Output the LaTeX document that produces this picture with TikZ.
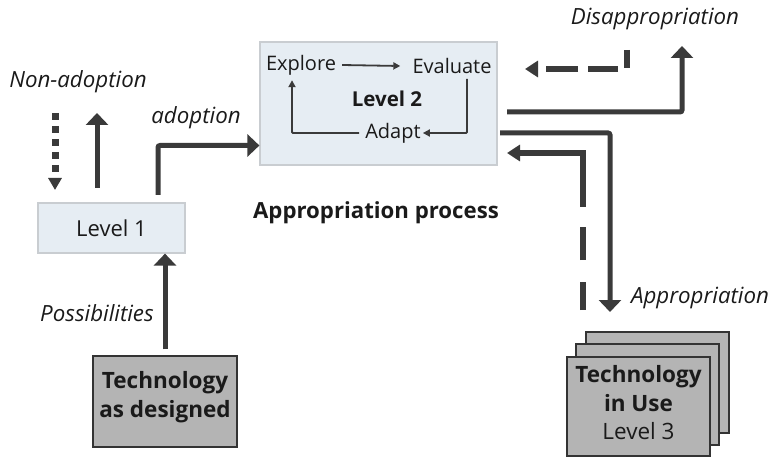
\documentclass[tikz,border=0pt]{standalone}
\usepackage{fontspec}
\setmainfont{Open Sans}
\usetikzlibrary{arrows.meta,calc}
\definecolor{arr}{HTML}{3A3A3A}
\definecolor{lightbox}{HTML}{E6EDF3}
\definecolor{lightedge}{HTML}{C9CDD1}
\definecolor{techfill}{HTML}{B4B4B4}
\definecolor{techedge}{HTML}{333333}
\definecolor{txt}{HTML}{1A1A1A}
\tikzset{
  txtnode/.style={text=txt, inner sep=0pt, font=\fontsize{20}{24}\selectfont},
  itlabel/.style={txtnode, font=\fontsize{22.3}{26}\selectfont\itshape},
  levelbox/.style={draw=lightedge, line width=1.2pt, fill=lightbox, text=txt, font=\fontsize{22}{26}\selectfont},
  techbox/.style={draw=techedge, line width=1.5pt, fill=techfill, text=txt, align=center,
     minimum width=143pt, minimum height=99pt, inner sep=0pt, font=\fontsize{22.5}{28.5}\selectfont},
  thick arrow/.style={draw=arr, line width=5pt, -{Triangle[width=22pt,length=12pt]}},
  dash arrow/.style={draw=arr, line width=6pt, -{Triangle[width=16pt,length=13pt]}},
  thin arrow/.style={draw=arr, line width=1.8pt, -{Triangle[width=7pt,length=7pt]}},
}
\begin{document}
\begin{tikzpicture}[x=1pt,y=-1pt]
\useasboundingbox (0,0) rectangle (771,457);

% Level 2 box
\node[levelbox, minimum width=237pt, minimum height=123pt, inner sep=0pt] (lvl2) at (378.5,103.5) {};
\node[txtnode] (explore) at (301,65) {Explore};
\node[txtnode] (evaluate) at (452,66) {Evaluate};
\node[txtnode, font=\fontsize{20.5}{24}\selectfont\bfseries] (level2txt) at (387,99) {Level 2};
\node[txtnode] (adapt) at (393,133) {Adapt};
\draw[thin arrow] ([xshift=6pt]explore.east) -- ([xshift=-12pt]evaluate.west);
\draw[thin arrow, rounded corners=1pt] ([xshift=15pt,yshift=-5pt]evaluate.south) |- ([xshift=2pt]adapt.east);
\draw[thin arrow, rounded corners=1pt] ([xshift=-6pt]adapt.west) -| ([xshift=-9pt,yshift=-5pt]explore.south);

% Level 1 box
\node[levelbox, minimum width=147pt, minimum height=50pt, inner sep=0pt] (lvl1) at (111.5,228) {Level 1};

% Technology as designed
\node[techbox, minimum width=144pt, minimum height=91pt] (tad) at (165,401.5) {};
\node[txtnode, align=center, font=\fontsize{22.5}{29}\selectfont\bfseries] (tadtxt) at (165,397) {Technology\\as designed};

% Technology in use stack
\draw[draw=techedge, line width=1.5pt, fill=techfill] (586,332) rectangle (729,433);
\draw[draw=techedge, line width=1.5pt, fill=techfill] (576,344) rectangle (719,445);
\node[techbox] (tiu) at (638.5,406.5) {};
\node[txtnode, align=center, font=\fontsize{22.5}{28.5}\selectfont] (tiutxt) at (638.5,403) {\textbf{Technology}\\\textbf{in Use}\\Level 3};

% labels
\node[itlabel] (nonad) at (78,82) {Non-adoption};
\node[itlabel] (adopt) at (196,118) {adoption};
\node[txtnode, font=\fontsize{22.2}{26}\selectfont\bfseries] (approcess) at (376,213) {Appropriation process};
\node[itlabel] (poss) at (97,313) {Possibilities};
\node[itlabel] (disapp) at (655,19) {Disappropriation};
\node[itlabel] (app) at (700,298) {Appropriation};

% Possibilities arrow
\draw[thick arrow] ([yshift=6pt]tad.north) -- (tad.north |- lvl1.south);

% non-adoption arrows
\coordinate (nd1) at (55,113);
\coordinate (nd2) at (55,190);
\coordinate (nu1) at (97,188);
\coordinate (nu2) at (97,113);
\draw[dash arrow, line width=7pt, dash pattern=on 7pt off 6pt, -{Triangle[width=13pt,length=12pt]}] (nd1) -- (nd2);
\draw[thick arrow] (nu1) -- (nu2);

% adoption arrow
\coordinate (ad1) at (158,195);
\draw[thick arrow, rounded corners=2pt] (ad1) |- ([yshift=-42pt]lvl2.west);

% disappropriation arrow
\coordinate (ds1) at (507,112);
\coordinate (ds2) at (682,46);
\draw[thick arrow, rounded corners=2pt] (ds1) -| (ds2);

% dashed back to level 2 (top)
\coordinate (db1) at (627,50);
\coordinate (db2) at (525,69);
\draw[dash arrow, dash pattern=on 18pt off 10pt on 30pt off 10pt on 32pt off 100pt] (db1) |- (db2);

% appropriation arrow
\coordinate (ap1) at (500,133);
\coordinate (ap2) at (610,312);
\draw[thick arrow, rounded corners=2pt] (ap1) -| (ap2);

% dashed return
\coordinate (dr1) at (583,310);
\coordinate (dr2) at (507,153);
\draw[dash arrow, line width=5.5pt, dash pattern=on 28pt off 22pt on 33pt off 20pt on 300pt] (dr1) |- (dr2);
\end{tikzpicture}
\end{document}
